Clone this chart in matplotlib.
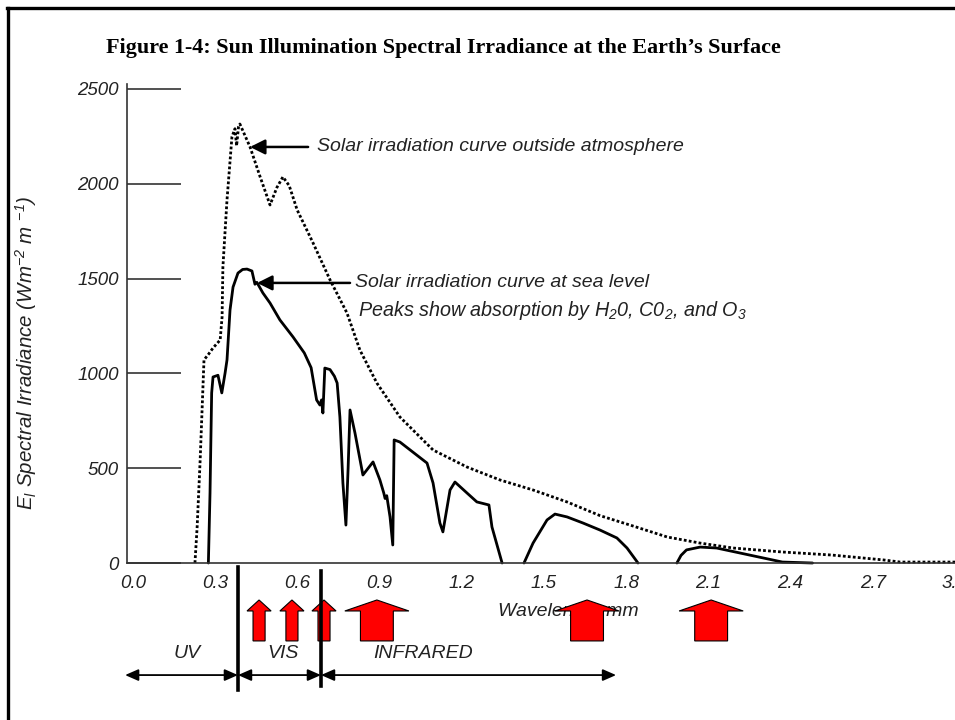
import numpy as np
import matplotlib
matplotlib.use("Agg")
import matplotlib.pyplot as plt
from matplotlib.patches import Polygon
from matplotlib.lines import Line2D

# ------------------------------
#  data
# ------------------------------
# solar irradiation outside the atmosphere (dotted curve)
top_wl = [0.226, 0.234, 0.245, 0.252, 0.259, 0.275, 0.292, 0.318, 0.325, 0.328,
          0.343, 0.361, 0.372, 0.378, 0.385, 0.39, 0.427, 0.464, 0.50, 0.525,
          0.547, 0.57, 0.599, 0.657, 0.719, 0.781, 0.828, 0.89, 0.974, 1.095,
          1.219, 1.339, 1.46, 1.584, 1.704, 1.825, 1.95, 2.07, 2.19, 2.37,
          2.55, 2.74, 2.8, 3.0]
top_irr = [0, 190, 543, 807, 1071, 1100, 1134, 1176, 1297, 1561,
           1915, 2247, 2290, 2200, 2300, 2315, 2194, 2036, 1888, 1980,
           2036, 1990, 1862, 1688, 1493, 1318, 1123, 949, 770, 596,
           506, 438, 385, 322, 250, 195, 137, 105, 79, 58,
           42, 16, 5, 5]

# solar irradiation at sea level (solid curve, nan = gap)
sea_wl = [0.275, 0.281, 0.287, 0.292, 0.31, 0.324, 0.336, 0.343, 0.354, 0.365,
          0.383, 0.40, 0.416, 0.434, 0.445, 0.452, 0.474, 0.5, 0.536, 0.584,
          0.625, 0.65, 0.67, 0.682, 0.688, 0.693, 0.70, 0.719, 0.735, 0.745,
          0.755, 0.766, 0.777, 0.785, 0.792, 0.81, 0.839, 0.876, 0.901, 0.915,
          0.92, 0.926, 0.938, 0.948, 0.953, 0.974, 1.073, 1.095, 1.12, 1.131,
          1.157, 1.175, 1.219, 1.255, 1.299, 1.31, 1.347, np.nan,
          1.427, 1.46, 1.511, 1.54, 1.584, 1.642, 1.704, 1.766, 1.803, 1.843, np.nan,
          1.985, 2.0, 2.02, 2.07, 2.13, 2.25, 2.37, 2.48]
sea_irr = [0, 369, 897, 981, 990, 897, 1002, 1071, 1334, 1455,
           1529, 1548, 1550, 1540, 1470, 1480, 1424, 1371, 1282, 1192,
           1108, 1030, 860, 833, 860, 791, 1028, 1020, 985, 949,
           770, 422, 200, 500, 807, 686, 464, 533, 438, 370,
           340, 355, 243, 95, 649, 638, 527, 422, 211, 164,
           385, 427, 369, 322, 306, 190, 0, np.nan,
           0, 105, 227, 258, 243, 211, 174, 132, 79, 0, np.nan,
           0, 40, 69, 84, 79, 42, 5, 0]

x_ticks = [0.0, 0.3, 0.6, 0.9, 1.2, 1.5, 1.8, 2.1, 2.4, 2.7, 3.0]
x_tick_labels = ["0.0", "0.3", "0.6", "0.9", "1.2", "1.5", "1.8", "2.1", "2.4", "2.7", "3.0"]
x_marks = [0.6, 0.9, 1.2, 1.5, 1.8, 2.1, 2.4, 2.7]
y_ticks = [0, 500, 1000, 1500, 2000, 2500]

# band limits (um) and names
band_edges = [-0.029, 0.383, 0.686, 1.763]
band_names = ["UV", "VIS", "INFRARED"]
band_label_x = [0.197, 0.547, 1.058]

# red absorption markers: position and wide/narrow
absorption_x = [0.46, 0.58, 0.697, 0.89, 1.657, 2.11]
absorption_wide = [False, False, False, True, True, True]

# ------------------------------
#  figure
# ------------------------------
plt.rcParams['font.family'] = ['Liberation Sans', 'DejaVu Sans']
plt.rcParams['mathtext.fontset'] = 'custom'
plt.rcParams['mathtext.rm'] = 'Liberation Sans:italic'
plt.rcParams['mathtext.it'] = 'Liberation Sans:italic'

W, H = 955, 720
fig = plt.figure(figsize=(W / 100, H / 100), dpi=100)
ax = fig.add_axes([127 / W, (H - 563) / H, (W - 127) / W, (563 - 84) / H])
ax.set_xlim(-0.022, 3.0)
ax.set_ylim(0, 2526)

for s in ['top', 'right']:
    ax.spines[s].set_visible(False)
for s in ['left', 'bottom']:
    ax.spines[s].set_linewidth(1.2)
    ax.spines[s].set_color('#333333')

ax.set_xticks(x_ticks)
ax.set_xticklabels(x_tick_labels, fontstyle='italic', fontsize=13.5, color='#222222')
ax.set_xticks(x_marks, minor=True)
ax.tick_params(axis='x', which='major', length=0, pad=9)
ax.tick_params(axis='x', which='minor', direction='in', length=25, width=1.0, color='#333333')
ax.set_yticks(y_ticks)
ax.set_yticklabels([str(v) for v in y_ticks], fontstyle='italic', fontsize=13.5, color='#222222')
ax.tick_params(axis='y', direction='in', length=39, width=1.2, color='#333333', pad=6)

# curves
ax.plot(top_wl, top_irr, color='black', lw=2.0, linestyle=(0, (1, 0.8)), clip_on=False)
ax.plot(sea_wl, sea_irr, color='black', lw=2.0, clip_on=False,
        solid_joinstyle='round', solid_capstyle='round')

# annotations
arrow_kw = dict(arrowstyle='-|>,head_length=0.9,head_width=0.45', color='black', lw=1.8,
                shrinkA=0, shrinkB=0)
ax.annotate('', xy=(0.427, 2194), xytext=(0.639, 2194), arrowprops=arrow_kw)
ax.text(0.672, 2194, 'Solar irradiation curve outside atmosphere', fontsize=14,
        fontstyle='italic', va='center', ha='left', color='#222222')
ax.annotate('', xy=(0.453, 1477), xytext=(0.792, 1477), arrowprops=arrow_kw)
ax.text(0.81, 1477, 'Solar irradiation curve at sea level', fontsize=14,
        fontstyle='italic', va='center', ha='left', color='#222222')
ax.text(0.821, 1334, r'Peaks show absorption by H$_2$0, C0$_2$, and O$_3$', fontsize=14.2,
        fontstyle='italic', va='center', ha='left', color='#222222')

# axis title under the x axis
ax.text(1.332, -258, 'Wavelength mm', fontsize=14, fontstyle='italic',
        va='center', ha='left', color='#222222', zorder=2)

# bands below the axis
ax.plot([band_edges[1]] * 2, [-21, -670], color='black', lw=2.6, clip_on=False, zorder=6)
ax.plot([band_edges[2]] * 2, [-42, -649], color='black', lw=2.6, clip_on=False, zorder=6)
band_kw = dict(arrowstyle='<|-|>,head_length=0.8,head_width=0.35', color='black', lw=1.3,
               shrinkA=0, shrinkB=0)
for i in range(3):
    ax.annotate('', xy=(band_edges[i], -591), xytext=(band_edges[i + 1], -591),
                arrowprops=band_kw, annotation_clip=False)
    ax.text(band_label_x[i], -475, band_names[i], fontsize=14, fontstyle='italic',
            ha='center', va='center', color='#222222')

# red up arrows
for cx, wide in zip(absorption_x, absorption_wide):
    hw = 0.117 if wide else 0.044
    bw = 0.060 if wide else 0.022
    y_top, y_head, y_bot = -195, -253, -411
    pts = [(cx - bw, y_bot), (cx + bw, y_bot), (cx + bw, y_head), (cx + hw, y_head),
           (cx, y_top), (cx - hw, y_head), (cx - bw, y_head)]
    ax.add_patch(Polygon(pts, closed=True, facecolor='#ff0000', edgecolor='black',
                         lw=0.8, clip_on=False, zorder=5))

# y label and title
fig.text(26 / W, 1 - 353 / H, r'$E_l$ Spectral Irradiance (Wm$^{-2}$ m $^{-1}$)',
         rotation=90, fontsize=14.8, fontstyle='italic', ha='center', va='center',
         color='#222222')
fig.text(106 / W, 1 - 48 / H,
         'Figure 1-4: Sun Illumination Spectral Irradiance at the Earth\u2019s Surface',
         family='Liberation Serif', fontweight='bold', fontsize=15.9, ha='left', va='center')

# frame lines at top and left
fig.add_artist(Line2D([8 / W, 8 / W], [0, 1 - 8 / H], color='black', lw=2.4,
                      transform=fig.transFigure))
fig.add_artist(Line2D([7 / W, 1], [1 - 8 / H, 1 - 8 / H], color='black', lw=2.4,
                      transform=fig.transFigure))

fig.savefig('out.png', dpi=100)
